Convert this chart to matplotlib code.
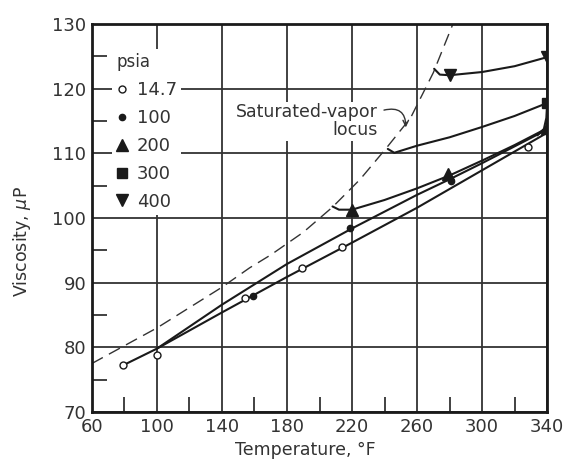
import matplotlib
matplotlib.use('Agg')
import matplotlib.pyplot as plt
from matplotlib.lines import Line2D
from matplotlib.ticker import FixedLocator, MultipleLocator

# isobar lines (temperature F, viscosity micropoise)
t_147 = [79, 100, 140, 180, 220, 260, 280, 300, 340]
v_147 = [77.2, 79.8, 85.4, 90.9, 96.2, 101.6, 104.5, 107.4, 113.2]
t_100 = [100, 140, 180, 220, 260, 280, 300, 340]
v_100 = [79.8, 86.6, 92.9, 98.4, 103.6, 106.0, 108.5, 113.7]
t_200 = [208, 212, 220, 240, 260, 280, 300, 320, 340]
v_200 = [101.8, 101.3, 101.3, 102.8, 104.6, 106.6, 108.9, 111.3, 113.9]
t_300 = [242, 246, 260, 280, 300, 320, 340]
v_300 = [110.7, 110.1, 111.2, 112.5, 114.1, 115.8, 117.8]
t_400 = [270.5, 274, 280, 300, 320, 340]
v_400 = [123.1, 122.2, 122.1, 122.6, 123.5, 124.9]
t_edge = [334, 338, 339.5, 340]
v_edge = [112.8, 113.8, 115.5, 117.8]

# measured points
pt_147_t = [79, 100, 154, 189, 214, 328]
pt_147_v = [77.3, 78.8, 87.6, 92.3, 95.5, 111.0]
pt_100_t = [159, 219, 281, 340]
pt_100_v = [88.0, 98.4, 105.8, 113.6]
pt_200_t = [220, 279, 340]
pt_200_v = [101.3, 106.8, 114.0]
pt_300_t = [340]
pt_300_v = [117.8]
pt_400_t = [280, 340]
pt_400_v = [122.1, 124.9]

# saturated-vapor locus
sat_t = [60, 100, 140, 157, 170, 190, 208, 225, 241, 256, 270, 282]
sat_v = [77.5, 83.0, 89.3, 92.3, 94.3, 97.8, 101.7, 106.0, 110.8, 115.5, 122.5, 130.0]

x_ticks = [60, 100, 140, 180, 220, 260, 300, 340]
x_minor = [80, 120, 160, 200, 240, 280, 320]

fig = plt.figure(figsize=(5.67, 4.65), dpi=100)
ax = fig.add_axes([0.162, 0.114, 0.803, 0.834])

ink = '#1a1a1a'
grey = '#333333'
ax.plot(sat_t, sat_v, color=grey, lw=1.0, ls=(0, (9, 5)))
for t, v in [(t_147, v_147), (t_100, v_100), (t_200, v_200),
             (t_300, v_300), (t_400, v_400), (t_edge, v_edge)]:
    ax.plot(t, v, color=ink, lw=1.5, solid_capstyle='round')

ax.plot(pt_147_t, pt_147_v, 'o', ms=5, mfc='white', mec=ink, mew=1.0, ls='none')
ax.plot(pt_100_t, pt_100_v, 'o', ms=4.5, color=ink, ls='none')
ax.plot(pt_200_t, pt_200_v, '^', ms=8, color=ink, ls='none')
ax.plot(pt_300_t, pt_300_v, 's', ms=7, color=ink, ls='none')
ax.plot(pt_400_t, pt_400_v, 'v', ms=8, color=ink, ls='none')

ax.set_xlim(60, 340)
ax.set_ylim(70, 130)
ax.xaxis.set_major_locator(FixedLocator(x_ticks))
ax.xaxis.set_minor_locator(FixedLocator(x_minor))
ax.yaxis.set_major_locator(MultipleLocator(10))
ax.yaxis.set_minor_locator(MultipleLocator(5))
ax.grid(True, which='major', color=grey, lw=1.3)
ax.set_axisbelow(True)
ax.tick_params(which='major', length=0, labelsize=13, labelcolor=grey, pad=4)
ax.tick_params(which='minor', direction='in', length=11, width=1.3, color=grey)
for s in ax.spines.values():
    s.set_linewidth(2)
    s.set_color(ink)

ax.set_xlabel('Temperature, °F', fontsize=12.5, color=grey)
ax.set_ylabel('Viscosity, $\\mu$P', fontsize=12.5, color=grey)
ax.xaxis.set_label_coords(0.468, -0.075)
ax.yaxis.set_label_coords(-0.13, 0.44)

handles = [
    Line2D([], [], marker='o', ls='none', ms=5, mfc='white', mec=ink, mew=1.0),
    Line2D([], [], marker='o', ls='none', ms=4.5, color=ink),
    Line2D([], [], marker='^', ls='none', ms=8, color=ink),
    Line2D([], [], marker='s', ls='none', ms=7, color=ink),
    Line2D([], [], marker='v', ls='none', ms=8, color=ink),
]
labels = ['14.7', '100', '200', '300', '400']
leg = ax.legend(handles, labels, title='psia', loc='upper left',
                bbox_to_anchor=(0.045, 0.937), frameon=True, fancybox=False,
                facecolor='white', edgecolor='none', framealpha=1,
                fontsize=13, title_fontsize=12, handlelength=0.6,
                handletextpad=0.5, labelspacing=0.55, borderpad=0.25,
                borderaxespad=0, alignment='left')
for txt in leg.get_texts():
    txt.set_color(grey)
leg.get_title().set_color(grey)

ax.text(236, 115, 'Saturated-vapor\nlocus', ha='right', va='center',
        multialignment='right', fontsize=12.5, color=grey,
        linespacing=1.0, bbox=dict(fc='white', ec='none', pad=1))
ax.annotate('', xy=(253, 113.6), xytext=(238, 116.6),
            arrowprops=dict(arrowstyle='->', color=grey, lw=1.0,
                            connectionstyle='arc3,rad=-0.7'))

plt.savefig('out.png', dpi=100)
